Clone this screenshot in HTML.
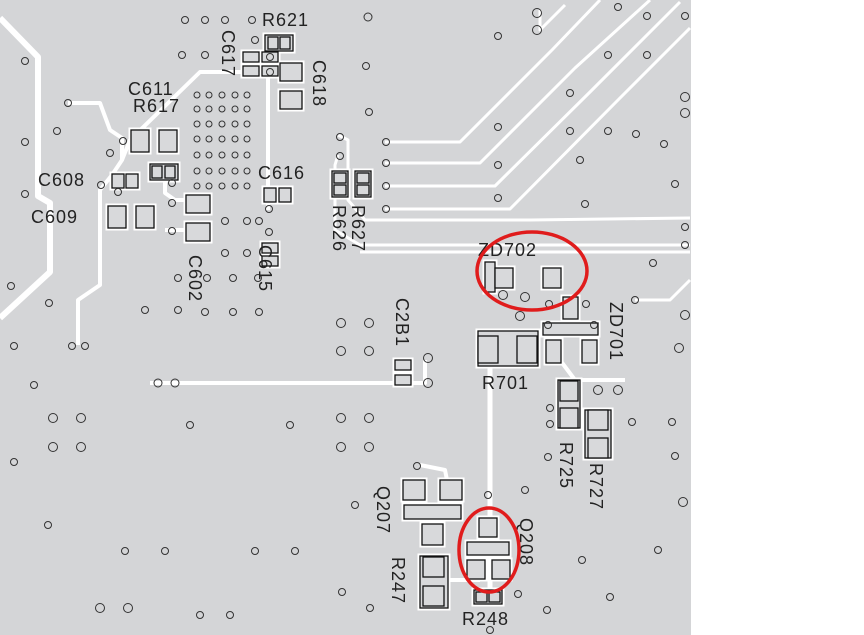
<!DOCTYPE html>
<html><head><style>html,body{margin:0;padding:0;background:#fff}svg{display:block}</style></head>
<body>
<svg width="864" height="635" viewBox="0 0 864 635" xmlns="http://www.w3.org/2000/svg" xmlns:xlink="http://www.w3.org/1999/xlink" font-family="Liberation Sans, sans-serif">
<defs>
<g id="p">
<rect x="265" y="35" width="28" height="16"/><rect x="268" y="37" width="10" height="12"/><rect x="280" y="37" width="10" height="12"/>
<rect x="243" y="52" width="16" height="10"/><rect x="243" y="66" width="16" height="10"/><rect x="262" y="52" width="16" height="10"/><rect x="262" y="66" width="16" height="10"/>
<rect x="280" y="63" width="22" height="18"/><rect x="280" y="91" width="22" height="18"/>
<rect x="131" y="130" width="18" height="22"/><rect x="159" y="130" width="18" height="22"/>
<rect x="150" y="164" width="28" height="16"/><rect x="152" y="166" width="10" height="12"/><rect x="165" y="166" width="10" height="12"/>
<rect x="112" y="174" width="12" height="14"/><rect x="126" y="174" width="12" height="14"/>
<rect x="108" y="206" width="18" height="22"/><rect x="136" y="206" width="18" height="22"/>
<rect x="186" y="195" width="24" height="18"/><rect x="186" y="223" width="24" height="18"/>
<rect x="264" y="188" width="12" height="14"/><rect x="279" y="188" width="12" height="14"/>
<rect x="262" y="243" width="16" height="10"/><rect x="262" y="256" width="16" height="10"/>
<rect x="332" y="171" width="16" height="26"/><rect x="334" y="173" width="12" height="10"/><rect x="334" y="185" width="12" height="10"/>
<rect x="355" y="171" width="16" height="26"/><rect x="357" y="173" width="12" height="10"/><rect x="357" y="185" width="12" height="10"/>
<rect x="395" y="360" width="16" height="10"/><rect x="395" y="375" width="16" height="10"/>
<rect x="485" y="262" width="10" height="30"/><rect x="495" y="268" width="18" height="20"/><rect x="543" y="268" width="18" height="20"/>
<rect x="563" y="297" width="15" height="22"/><rect x="543" y="323" width="55" height="12"/>
<rect x="546" y="340" width="15" height="23"/><rect x="582" y="340" width="15" height="23"/>
<rect x="478" y="331" width="60" height="35"/><rect x="478" y="336" width="20" height="27"/><rect x="517" y="336" width="20" height="27"/>
<rect x="558" y="380" width="22" height="48"/><rect x="560" y="381" width="18" height="20"/><rect x="560" y="408" width="18" height="20"/>
<rect x="585" y="410" width="26" height="48"/><rect x="588" y="410" width="20" height="20"/><rect x="588" y="438" width="20" height="20"/>
<rect x="403" y="480" width="22" height="20"/><rect x="440" y="480" width="22" height="20"/><rect x="404" y="505" width="57" height="14"/><rect x="422" y="524" width="21" height="21"/>
<rect x="420" y="556" width="28" height="52"/><rect x="423" y="557" width="21" height="20"/><rect x="423" y="586" width="21" height="20"/>
<rect x="479" y="518" width="18" height="19"/><rect x="467" y="542" width="42" height="13"/><rect x="467" y="560" width="18" height="19"/><rect x="492" y="560" width="18" height="19"/>
<rect x="474" y="590" width="28" height="14"/><rect x="476" y="592" width="11" height="10"/><rect x="489" y="592" width="11" height="10"/>
</g>
</defs>
<rect x="0" y="0" width="691" height="635" fill="#d4d5d7"/>
<!-- traces -->
<g fill="none" stroke="#fff" stroke-width="4" stroke-linejoin="round">
<polyline points="0,18 38,57 38,196 50,203 50,272 0,318" stroke-width="6"/>
<polyline points="68,103 100,103 110,130 122,138 122,160 112,175 100,190 100,285 78,300 78,345"/>
<polyline points="122,160 130,140 200,72 255,72 268,58 268,130 268,195 268,210"/>
<polyline points="165,182 165,193 175,200 205,200"/>
<polyline points="165,230 205,230"/>
<polyline points="150,383 425,383 425,360"/>
<polyline points="338,135 348,140 348,200 365,220 530,220 690,218" stroke-width="3"/>
<polyline points="338,155 335,165 335,230 360,245 690,245" stroke-width="3"/>
<polyline points="360,252 690,252" stroke-width="3"/>
<polyline points="385,142 460,142 552,50 600,0" stroke-width="3"/>
<polyline points="385,163 480,163 575,68 650,0" stroke-width="3"/>
<polyline points="385,186 495,186 590,92 680,2" stroke-width="3"/>
<polyline points="385,209 510,209 620,98 690,28" stroke-width="3"/>
<polyline points="540,10 540,30 565,5" stroke-width="3"/>
<polyline points="635,300 670,300 690,280" stroke-width="3"/>
<polyline points="490,340 490,600 480,600" stroke-width="5"/>
<polyline points="420,465 445,470 450,495"/>
<polyline points="560,360 575,380 620,380 625,380"/>
<polyline points="435,580 480,580"/>
</g>
<!-- pad halos -->
<g fill="#fff" stroke="#fff" stroke-width="5"><use xlink:href="#p"/></g>
<g fill="#d8d9db" stroke="#111" stroke-width="1.3"><use xlink:href="#p"/></g>
<!-- vias -->
<g fill="none" stroke="#333" stroke-width="1">
<circle cx="185" cy="20" r="3.5"/><circle cx="205" cy="20" r="3.5"/><circle cx="225" cy="20" r="3.5"/><circle cx="252" cy="20" r="3.5"/>
<circle cx="182" cy="55" r="3.5"/><circle cx="205" cy="55" r="3.5"/><circle cx="255" cy="40" r="3.5"/><circle cx="270" cy="57" r="3.5"/><circle cx="270" cy="72" r="3.5"/>
<circle cx="25" cy="61" r="3.5"/><circle cx="68" cy="103" r="3.5"/><circle cx="57" cy="131" r="3.5"/><circle cx="25" cy="142" r="3.5"/>
<circle cx="123" cy="141" r="3.5"/><circle cx="110" cy="153" r="3.5"/><circle cx="101" cy="185" r="3.5"/><circle cx="118" cy="192" r="3.5"/><circle cx="25" cy="194" r="3.5"/>
<circle cx="172" cy="183" r="3.5"/><circle cx="172" cy="203" r="3.5"/><circle cx="172" cy="231" r="3.5"/>
<circle cx="225" cy="221" r="3.5"/><circle cx="247" cy="221" r="3.5"/><circle cx="259" cy="221" r="3.5"/><circle cx="269" cy="209" r="3.5"/><circle cx="269" cy="232" r="3.5"/>
<circle cx="225" cy="253" r="3.5"/><circle cx="247" cy="253" r="3.5"/><circle cx="178" cy="278" r="3.5"/><circle cx="207" cy="278" r="3.5"/><circle cx="233" cy="278" r="3.5"/><circle cx="258" cy="278" r="3.5"/>
<circle cx="11" cy="286" r="3.5"/><circle cx="49" cy="303" r="3.5"/><circle cx="145" cy="310" r="3.5"/><circle cx="178" cy="310" r="3.5"/><circle cx="205" cy="312" r="3.5"/><circle cx="233" cy="312" r="3.5"/><circle cx="259" cy="312" r="3.5"/>
<circle cx="14" cy="346" r="3.5"/><circle cx="72" cy="346" r="3.5"/><circle cx="85" cy="346" r="3.5"/>
<circle cx="34" cy="385" r="3.5"/><circle cx="158" cy="383" r="4"/><circle cx="175" cy="383" r="4"/>
<circle cx="368" cy="17" r="4"/><circle cx="498" cy="36" r="3.5"/><circle cx="366" cy="66" r="3.5"/><circle cx="369" cy="112" r="3.5"/>
<circle cx="340" cy="137" r="3.5"/><circle cx="340" cy="156" r="3.5"/><circle cx="386" cy="142" r="3.5"/><circle cx="386" cy="163" r="3.5"/><circle cx="386" cy="186" r="3.5"/><circle cx="386" cy="209" r="3.5"/>
<circle cx="498" cy="127" r="3.5"/><circle cx="498" cy="165" r="3.5"/><circle cx="498" cy="198" r="3.5"/><circle cx="537" cy="13" r="4.5"/><circle cx="537" cy="30" r="4.5"/>
<circle cx="618" cy="7" r="3.5"/><circle cx="647" cy="16" r="3.5"/><circle cx="685" cy="16" r="3.5"/><circle cx="608" cy="55" r="3.5"/><circle cx="647" cy="55" r="3.5"/>
<circle cx="570" cy="93" r="3.5"/><circle cx="570" cy="131" r="3.5"/><circle cx="608" cy="131" r="3.5"/><circle cx="636" cy="134" r="3.5"/><circle cx="664" cy="144" r="3.5"/><circle cx="580" cy="160" r="3.5"/><circle cx="585" cy="204" r="3.5"/><circle cx="675" cy="184" r="3.5"/>
<circle cx="685" cy="97" r="4.5"/><circle cx="685" cy="113" r="4.5"/><circle cx="685" cy="227" r="3.5"/><circle cx="685" cy="245" r="3.5"/><circle cx="653" cy="263" r="3.5"/><circle cx="635" cy="300" r="3.5"/><circle cx="685" cy="315" r="4.5"/><circle cx="679" cy="348" r="4.5"/>
<circle cx="341" cy="323" r="4.5"/><circle cx="369" cy="323" r="4.5"/><circle cx="341" cy="351" r="4.5"/><circle cx="369" cy="351" r="4.5"/><circle cx="428" cy="358" r="4.5"/><circle cx="428" cy="383" r="4.5"/>
<circle cx="341" cy="418" r="4.5"/><circle cx="369" cy="418" r="4.5"/><circle cx="341" cy="447" r="4.5"/><circle cx="369" cy="447" r="4.5"/>
<circle cx="53" cy="418" r="4.5"/><circle cx="81" cy="418" r="4.5"/><circle cx="53" cy="447" r="4.5"/><circle cx="81" cy="447" r="4.5"/>
<circle cx="190" cy="425" r="3.5"/><circle cx="290" cy="425" r="3.5"/><circle cx="14" cy="462" r="3.5"/>
<circle cx="503" cy="295" r="4.5"/><circle cx="525" cy="297" r="4.5"/><circle cx="549" cy="304" r="3.5"/><circle cx="586" cy="304" r="3.5"/><circle cx="520" cy="316" r="4.5"/>
<circle cx="548" cy="325" r="3.5"/><circle cx="594" cy="325" r="3.5"/><circle cx="598" cy="390" r="4.5"/><circle cx="618" cy="390" r="4.5"/>
<circle cx="550" cy="408" r="3.5"/><circle cx="550" cy="424" r="3.5"/><circle cx="548" cy="457" r="3.5"/><circle cx="632" cy="422" r="3.5"/><circle cx="672" cy="422" r="3.5"/><circle cx="675" cy="456" r="3.5"/><circle cx="683" cy="502" r="4.5"/>
<circle cx="417" cy="466" r="3.5"/><circle cx="488" cy="495" r="3.5"/><circle cx="525" cy="490" r="3.5"/><circle cx="355" cy="505" r="3.5"/><circle cx="48" cy="525" r="3.5"/><circle cx="658" cy="550" r="3.5"/><circle cx="582" cy="560" r="3.5"/>
<circle cx="518" cy="594" r="3.5"/><circle cx="610" cy="597" r="3.5"/><circle cx="547" cy="610" r="3.5"/><circle cx="125" cy="551" r="3.5"/><circle cx="165" cy="551" r="3.5"/><circle cx="255" cy="551" r="3.5"/><circle cx="295" cy="551" r="3.5"/>
<circle cx="100" cy="608" r="4.5"/><circle cx="128" cy="608" r="4.5"/><circle cx="200" cy="615" r="3.5"/><circle cx="230" cy="615" r="3.5"/><circle cx="342" cy="592" r="3.5"/><circle cx="370" cy="608" r="3.5"/><circle cx="490" cy="630" r="3.5"/>
<g>
<circle cx="197" cy="95" r="3"/><circle cx="209" cy="95" r="3"/><circle cx="222" cy="95" r="3"/><circle cx="235" cy="95" r="3"/><circle cx="247" cy="95" r="3"/>
<circle cx="197" cy="109" r="3"/><circle cx="209" cy="109" r="3"/><circle cx="222" cy="109" r="3"/><circle cx="235" cy="109" r="3"/><circle cx="247" cy="109" r="3"/>
<circle cx="197" cy="124" r="3"/><circle cx="209" cy="124" r="3"/><circle cx="222" cy="124" r="3"/><circle cx="235" cy="124" r="3"/><circle cx="247" cy="124" r="3"/>
<circle cx="197" cy="139" r="3"/><circle cx="209" cy="139" r="3"/><circle cx="222" cy="139" r="3"/><circle cx="235" cy="139" r="3"/><circle cx="247" cy="139" r="3"/>
<circle cx="197" cy="155" r="3"/><circle cx="209" cy="155" r="3"/><circle cx="222" cy="155" r="3"/><circle cx="235" cy="155" r="3"/><circle cx="247" cy="155" r="3"/>
<circle cx="197" cy="171" r="3"/><circle cx="209" cy="171" r="3"/><circle cx="222" cy="171" r="3"/><circle cx="235" cy="171" r="3"/><circle cx="247" cy="171" r="3"/>
<circle cx="197" cy="186" r="3"/><circle cx="209" cy="186" r="3"/><circle cx="222" cy="186" r="3"/><circle cx="235" cy="186" r="3"/><circle cx="247" cy="186" r="3"/>
</g>
</g>
<!-- labels -->
<g fill="#222" font-size="18" letter-spacing="1">
<text x="262" y="26">R621</text>
<text x="128" y="95">C611</text>
<text x="133" y="112">R617</text>
<text x="38" y="186">C608</text>
<text x="31" y="223">C609</text>
<text x="258" y="179">C616</text>
<text x="478" y="256">ZD702</text>
<text x="482" y="389">R701</text>
<text x="462" y="625">R248</text>
<g transform="translate(222,30) rotate(90)"><text>C617</text></g>
<g transform="translate(313,60) rotate(90)"><text>C618</text></g>
<g transform="translate(189,255) rotate(90)"><text>C602</text></g>
<g transform="translate(259,245) rotate(90)"><text>C615</text></g>
<g transform="translate(333,205) rotate(90)"><text>R626</text></g>
<g transform="translate(352,205) rotate(90)"><text>R627</text></g>
<g transform="translate(396,298) rotate(90)"><text>C2B1</text></g>
<g transform="translate(610,302) rotate(90)"><text>ZD701</text></g>
<g transform="translate(560,442) rotate(90)"><text>R725</text></g>
<g transform="translate(590,463) rotate(90)"><text>R727</text></g>
<g transform="translate(377,486) rotate(90)"><text>Q207</text></g>
<g transform="translate(392,557) rotate(90)"><text>R247</text></g>
<g transform="translate(520,518) rotate(90)"><text>Q208</text></g>
</g>
<!-- red circles -->
<g fill="none" stroke="#e01c1c" stroke-width="3.5">
<ellipse cx="532" cy="271" rx="55" ry="39"/>
<ellipse cx="489" cy="550" rx="30" ry="42"/>
</g>
</svg>
</body></html>
